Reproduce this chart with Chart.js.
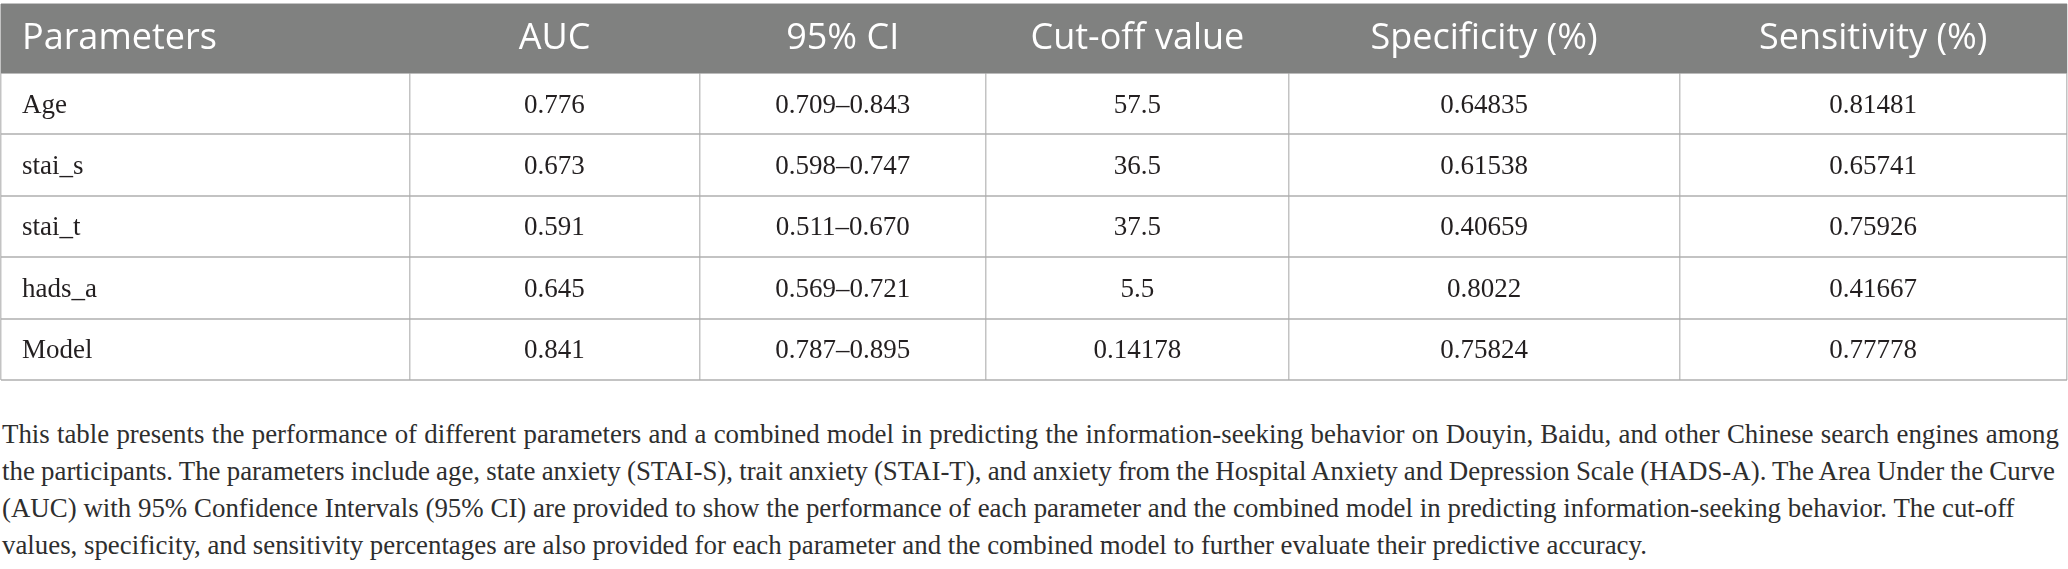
<!DOCTYPE html>
<html>
<head>
<meta charset="utf-8">
<title>ROC table</title>
<script src="https://cdn.jsdelivr.net/npm/chart.js@4.4.1/dist/chart.umd.min.js"></script>
<style>
html, body { margin: 0; padding: 0; background: #fff; }
#page { position: relative; width: 2068px; height: 569px; overflow: hidden; }
#table-box { position: absolute; left: 0; top: 0; width: 2068px; height: 382px; }
#caption {
    position: absolute; left: 2px; top: 413px; margin: 0;
    font-family: "Liberation Serif", serif; color: #2e2e2e;
    line-height: 37px; white-space: nowrap;
}
#caption span { display: block; }
</style>
</head>
<body>
<div id="page">
    <div id="table-box"><canvas id="rocTable"></canvas></div>
    <p id="caption"><span>This table presents the performance of different parameters and a combined model in predicting the information-seeking behavior on Douyin, Baidu, and other Chinese search engines among</span><span>the participants. The parameters include age, state anxiety (STAI-S), trait anxiety (STAI-T), and anxiety from the Hospital Anxiety and Depression Scale (HADS-A). The Area Under the Curve</span><span>(AUC) with 95% Confidence Intervals (95% CI) are provided to show the performance of each parameter and the combined model in predicting information-seeking behavior. The cut-off</span><span>values, specificity, and sensitivity percentages are also provided for each parameter and the combined model to further evaluate their predictive accuracy.</span></p>
</div>
<script>
/* =========================
TABLE DATA
========================= */
const columns = ['Parameters', 'AUC', '95% CI', 'Cut-off value', 'Specificity (%)', 'Sensitivity (%)'];
const parameters = ['Age', 'stai_s', 'stai_t', 'hads_a', 'Model'];
const auc = ['0.776', '0.673', '0.591', '0.645', '0.841'];
const ci95 = ['0.709–0.843', '0.598–0.747', '0.511–0.670', '0.569–0.721', '0.787–0.895'];
const cutoff = ['57.5', '36.5', '37.5', '5.5', '0.14178'];
const specificity = ['0.64835', '0.61538', '0.40659', '0.8022', '0.75824'];
const sensitivity = ['0.81481', '0.65741', '0.75926', '0.41667', '0.77778'];

// layout: column edges as share of table width, header row a bit taller than body rows
const colEdges = [0, 0.1978, 0.3380, 0.4768, 0.6233, 0.8124, 1];
const headerSpan = 1.126;
const rowEdges = [0].concat(parameters.map((p, i) => headerSpan + i), [headerSpan + parameters.length]);

const headSize = 36, bodySize = 27;
const headFont = `${headSize}px "Open Sans"`;
const bodyFont = `${bodySize}px "Liberation Serif"`;
const cellPad = 21;

// lines look lighter on the grey header than on white
const lineColor = 'rgba(172, 172, 172, 0.72)';

// caption: where each line ends and where the first baseline sits
const captionEnds = [2059, 2059, 2015, 1647];
const captionBaseline = 444;

function cellX(j) {
    return j === 0 ? colEdges[0] : (colEdges[j] + colEdges[j + 1]) / 2;
}

const colValues = [parameters, auc, ci95, cutoff, specificity, sensitivity];

const datasets = columns.map((name, j) => ({
    label: name,
    data: [{ x: cellX(j), y: headerSpan / 2, text: name, head: true }].concat(
        colValues[j].map((v, i) => ({ x: cellX(j), y: headerSpan + i + 0.5, text: v }))
    ),
    pointRadius: 0,
    pointHoverRadius: 0
}));

/* =========================
PLUGINS
========================= */
const headerBand = {
    id: 'headerBand',
    beforeDatasetsDraw(chart) {
        const { ctx, scales: { x, y } } = chart;
        const left = x.getPixelForValue(0), right = x.getPixelForValue(1);
        const top = y.getPixelForValue(0), bottom = y.getPixelForValue(headerSpan);
        ctx.save();
        ctx.fillStyle = '#808180';
        ctx.fillRect(left, top, right - left, bottom - top);
        ctx.restore();
    }
};

const cellText = {
    id: 'cellText',
    afterDraw(chart) {
        const ctx = chart.ctx;
        chart.data.datasets.forEach((ds, di) => {
            chart.getDatasetMeta(di).data.forEach((pt, i) => {
                const cell = ds.data[i];
                ctx.save();
                ctx.font = cell.head ? headFont : bodyFont;
                ctx.fillStyle = cell.head ? '#ffffff' : '#231f20';
                ctx.textAlign = di === 0 ? 'left' : 'center';
                ctx.textBaseline = 'alphabetic';
                const shift = cell.head ? headSize * 0.714 / 2 - 2 : bodySize * 0.662 / 2;
                ctx.fillText(cell.text, pt.x + (di === 0 ? cellPad : 0), pt.y + shift);
                ctx.restore();
            });
        });
    }
};

function buildTable() {
    const ctx = document.getElementById('rocTable').getContext('2d');
    new Chart(ctx, {
        type: 'scatter',
        data: { datasets },
        options: {
            responsive: true,
            maintainAspectRatio: false,
            animation: false,
            events: [],
            layout: { padding: { top: 4, bottom: 2, left: 1, right: 1 } },
            plugins: {
                legend: { display: false },
                tooltip: { enabled: false }
            },
            scales: {
                x: {
                    type: 'linear', min: 0, max: 1, z: 1,
                    afterBuildTicks: s => { s.ticks = colEdges.map(v => ({ value: v })); },
                    ticks: { display: false },
                    grid: { color: lineColor, lineWidth: 1.5, drawTicks: false },
                    border: { display: false }
                },
                y: {
                    type: 'linear', reverse: true, min: 0, max: headerSpan + parameters.length, z: 1,
                    afterBuildTicks: s => { s.ticks = rowEdges.map(v => ({ value: v })); },
                    ticks: { display: false },
                    grid: { color: lineColor, lineWidth: 2, drawTicks: false },
                    border: { display: false }
                }
            }
        },
        plugins: [headerBand, cellText]
    });
}

// caption: one size for all lines, then word spacing per line so each ends where the reference does
function fitCaption() {
    const cap = document.getElementById('caption');
    const lines = Array.from(cap.querySelectorAll('span'));
    const m = document.createElement('canvas').getContext('2d');
    m.font = '100px "Liberation Serif"';
    const left = 2;
    let natural = 0, target = 0;
    lines.forEach((ln, i) => { natural += m.measureText(ln.textContent).width; target += captionEnds[i] - left; });
    const size = 100 * target / natural;
    cap.style.fontSize = size.toFixed(2) + 'px';
    m.font = `${size}px "Liberation Serif"`;
    lines.forEach((ln, i) => {
        const txt = ln.textContent;
        const gaps = txt.split(' ').length - 1;
        const extra = (captionEnds[i] - left - m.measureText(txt).width) / gaps;
        ln.style.wordSpacing = extra.toFixed(2) + 'px';
    });
    // put the first baseline where it sits in the reference
    const lh = 37;
    const asc = 0.891 * size, desc = 0.216 * size;
    cap.style.top = (captionBaseline - (lh - asc - desc) / 2 - asc).toFixed(1) + 'px';
}

Promise.all([document.fonts.load(headFont), document.fonts.load(bodyFont)])
    .catch(() => {})
    .then(() => { fitCaption(); buildTable(); });
</script>
</body>
</html>
